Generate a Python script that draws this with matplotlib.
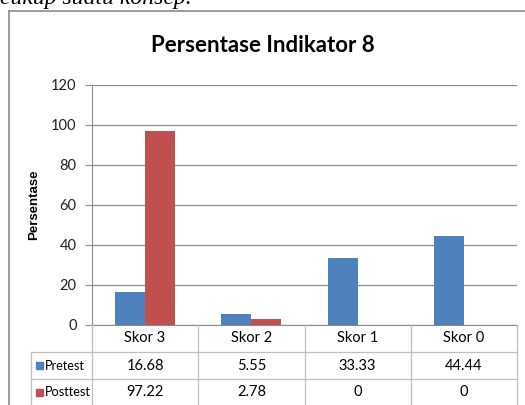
import matplotlib
matplotlib.use("Agg")
import matplotlib.pyplot as plt
from matplotlib.lines import Line2D
from matplotlib.patches import Rectangle
from matplotlib.transforms import blended_transform_factory

# Data
categories = ["Skor 3", "Skor 2", "Skor 1", "Skor 0"]
series_names = ["Pretest", "Posttest"]
pretest = [16.68, 5.55, 33.33, 44.44]
posttest = [97.22, 2.78, 0, 0]
yticks = [0, 20, 40, 60, 80, 100, 120]

colors = ["#4F81BD", "#C0504D"]
font = ["Lato", "DejaVu Sans"]

W, H = 525, 405
fig = plt.figure(figsize=(W / 100, H / 100), dpi=100)
fig.patch.set_facecolor("white")

def fx(px):
    return px / W

def fy(py):
    return 1 - py / H

# plot area
ax = fig.add_axes([fx(92), fy(325), fx(517) - fx(92), fy(85) - fy(325)])
n = len(categories)
xs = list(range(n))
bw = 0.283
ax.bar([x - bw / 2 for x in xs], pretest, width=bw, color=colors[0], zorder=3)
ax.bar([x + bw / 2 for x in xs], posttest, width=bw, color=colors[1], zorder=3)
ax.set_xlim(-0.5, n - 0.5)
ax.set_ylim(0, 120)
ax.set_yticks(yticks)
ax.set_yticklabels([str(t) for t in yticks], fontfamily=font, fontsize=10.5, color="#222222")
ax.set_xticks([])
for s in ["top", "right"]:
    ax.spines[s].set_visible(False)
ax.spines["left"].set_color("#8c8c8c")
ax.spines["bottom"].set_color("#8c8c8c")
ax.tick_params(axis="y", length=5, color="#8c8c8c", pad=6)
ax.yaxis.grid(True, color="#8c8c8c", linewidth=0.9, zorder=0)
ax.set_axisbelow(True)

# title and axis label
fig.text(0.5, fy(46), "Persentase Indikator 8", ha="center", va="center",
         fontfamily=font, fontsize=16, fontweight="bold", color="black")
fig.text(fx(34), fy(205), "Persentase", rotation=90, ha="center", va="center",
         fontfamily=["Liberation Sans", "DejaVu Sans"], fontsize=9.5, fontweight="bold")

# data table under the axis
tr = blended_transform_factory(ax.transData, fig.transFigure)
grid_c = "#bfbfbf"
row_y = [325, 352, 379, 405]
edges = [i - 0.5 for i in range(n + 1)]
for e in edges:
    fig.add_artist(Line2D([e, e], [fy(325), fy(405)], transform=tr, color=grid_c, lw=0.9))
for yy in row_y[1:3]:
    fig.add_artist(Line2D([fx(31), fx(517)], [fy(yy), fy(yy)], transform=fig.transFigure,
                          color=grid_c, lw=0.9))
fig.add_artist(Line2D([fx(31), fx(31)], [fy(352), fy(405)], transform=fig.transFigure,
                      color=grid_c, lw=0.9))

for i, c in enumerate(categories):
    fig.text(i, fy(338), c, transform=tr, ha="center", va="center",
             fontfamily=font, fontsize=10.5)

rows = [pretest, posttest]
for r, (name, vals) in enumerate(zip(series_names, rows)):
    yc = fy((row_y[r + 1] + row_y[r + 2]) / 2)
    fig.add_artist(Rectangle((fx(36), yc - 3.5 / H), 7 / W, 7 / H,
                             transform=fig.transFigure, color=colors[r]))
    fig.text(fx(45), yc, name, ha="left", va="center", fontfamily=font, fontsize=9.2)
    for i, v in enumerate(vals):
        fig.text(i, yc, f"{v:g}", transform=tr, ha="center", va="center",
                 fontfamily=font, fontsize=10.5)

# chart frame
fig.add_artist(Line2D([fx(8.5), fx(8.5)], [fy(11), 0], transform=fig.transFigure,
                      color="#8c8c8c", lw=1.2))
fig.add_artist(Line2D([fx(8.5), 1], [fy(11), fy(11)], transform=fig.transFigure,
                      color="#8c8c8c", lw=1.2))

# running text above the chart
fig.text(0.0, fy(4), "cukup suatu konsep.", ha="left", va="baseline",
         fontfamily=["Liberation Serif", "DejaVu Serif"], fontstyle="italic", fontsize=17)

fig.savefig("out.png", dpi=100)
